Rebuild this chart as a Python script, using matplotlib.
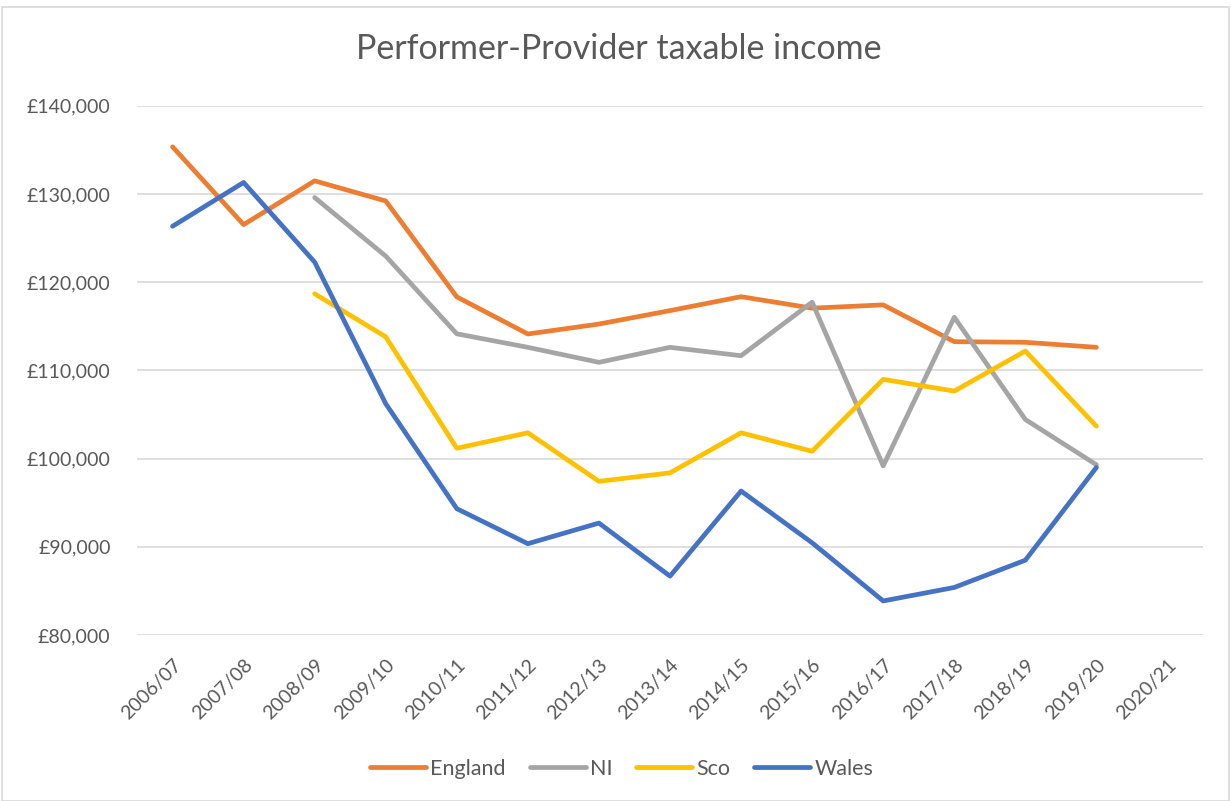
import matplotlib.pyplot as plt
from matplotlib.patches import Rectangle
from matplotlib.ticker import FuncFormatter
import numpy as np

years = ['2006/07', '2007/08', '2008/09', '2009/10', '2010/11', '2011/12', '2012/13',
         '2013/14', '2014/15', '2015/16', '2016/17', '2017/18', '2018/19', '2019/20', '2020/21']

nan = np.nan
england = [135340, 126520, 131480, 129200, 118330, 114120, 115250, 116770, 118350,
           117050, 117420, 113250, 113180, 112610, nan]
ni = [nan, nan, 129590, 122950, 114140, 112610, 110910, 112610, 111660,
      117730, 99170, 116020, 104430, 99300, nan]
sco = [nan, nan, 118680, 113800, 101170, 102920, 97420, 98380, 102920,
       100830, 108980, 107650, 112190, 103670, nan]
wales = [126330, 131300, 122270, 106220, 94320, 90350, 92690, 86670, 96320,
         90450, 83860, 85390, 88480, 98990, nan]

series = [('England', england, '#ED7D31'),
          ('NI', ni, '#A5A5A5'),
          ('Sco', sco, '#FFC000'),
          ('Wales', wales, '#4472C4')]

plt.rcParams['font.family'] = ['Lato', 'DejaVu Sans']
text_col = '#595959'

fig = plt.figure(figsize=(12.31, 8.01), dpi=100)
ax = fig.add_axes([137 / 1231, 1 - 635 / 801, (1203 - 137) / 1231, (635 - 105.7) / 801])

x = np.arange(len(years))
for name, vals, col in series:
    ax.plot(x, vals, color=col, lw=3.4, label=name, solid_capstyle='round', solid_joinstyle='round')

ax.set_xlim(-0.5, len(years) - 0.5)
ax.set_ylim(80000, 140000)
ax.set_yticks(np.arange(80000, 140001, 10000))
ax.yaxis.set_major_formatter(FuncFormatter(lambda v, p: '£{:,.0f}'.format(v)))
ax.set_xticks(x)
ax.set_xticklabels(years, rotation=45, ha='right', rotation_mode='anchor')
ax.tick_params(axis='both', length=0, labelsize=14, colors=text_col)
ax.tick_params(axis='y', pad=19)
ax.tick_params(axis='x', pad=15)
ax.grid(axis='y', color='#D9D9D9', lw=1.2)
ax.set_axisbelow(True)
for s in ax.spines.values():
    s.set_visible(False)

fig.text(0.503, 1 - 49 / 801, 'Performer-Provider taxable income', ha='center', va='center',
         fontsize=24.5, color=text_col)

leg = fig.legend(loc='center', bbox_to_anchor=(0.505, 1 - 769 / 801), ncol=4, frameon=False,
                 fontsize=15.5, handlelength=2.6, columnspacing=1.1, handletextpad=0.2)
for t in leg.get_texts():
    t.set_color(text_col)

fig.patches.append(Rectangle((2 / 1231, 0), 1 - 4 / 1231, 1 - 7 / 801, transform=fig.transFigure,
                             fill=False, edgecolor='#D9D9D9', lw=1.2))

fig.savefig('out.png', dpi=100)
